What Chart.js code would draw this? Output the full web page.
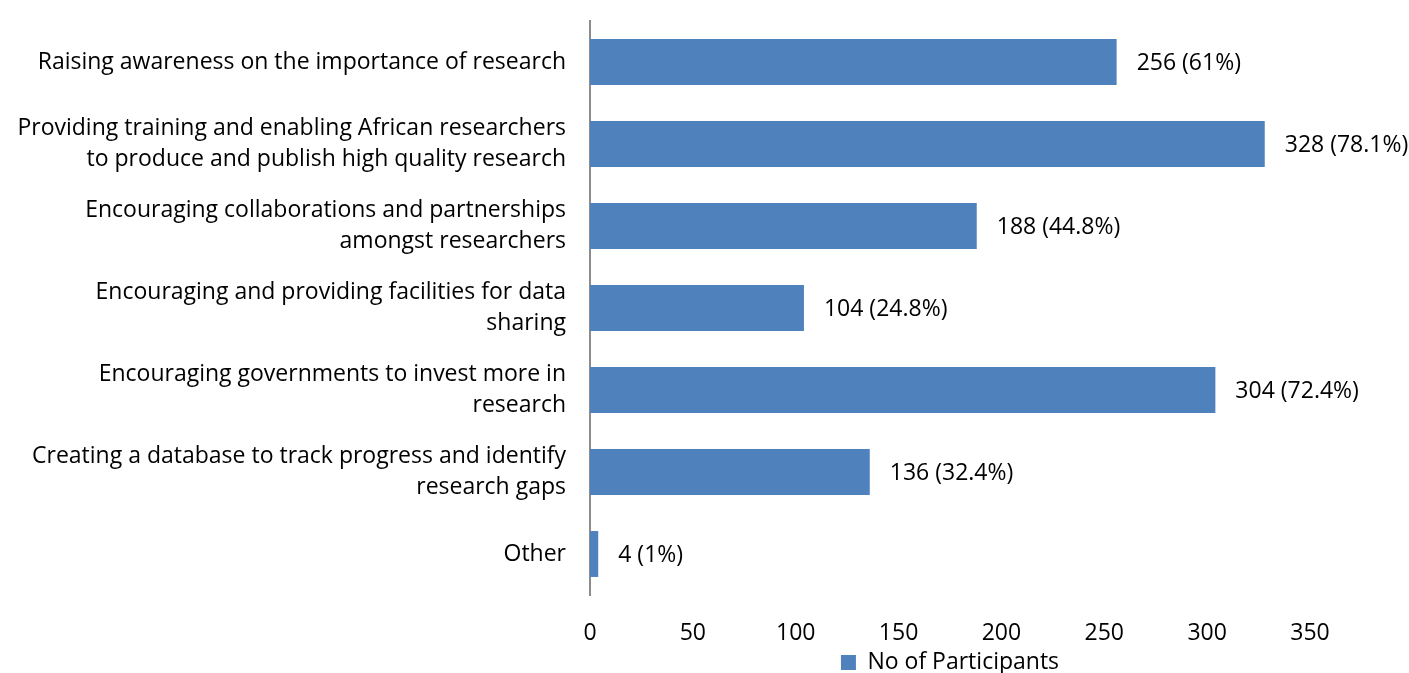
<!DOCTYPE html>
<html>
<head>
<meta charset="utf-8">
<script src="https://cdn.jsdelivr.net/npm/chart.js@4/dist/chart.umd.min.js"></script>
<style>
  html, body { margin: 0; padding: 0; background: #fff; }
  #wrap { width: 1409px; height: 673px; }
</style>
</head>
<body>
<div id="wrap"><canvas id="chart"></canvas></div>
<script>
const categories = [
  ["Raising awareness on the importance of research"],
  ["Providing training and enabling African researchers", "to produce and publish high quality research"],
  ["Encouraging collaborations and partnerships", "amongst researchers"],
  ["Encouraging and providing facilities for data", "sharing"],
  ["Encouraging governments to invest more in", "research"],
  ["Creating a database to track progress and identify", "research gaps"],
  ["Other"]
];
const participants = [256, 328, 188, 104, 304, 136, 4];
const percents = ["61%", "78.1%", "44.8%", "24.8%", "72.4%", "32.4%", "1%"];
const xTicks = [0, 50, 100, 150, 200, 250, 300, 350];

const FONT = "'Open Sans', sans-serif";
const SIZE = 23;
const BLUE = "#4F81BD";

// labels to the right of each bar
const barLabels = {
  id: "barLabels",
  afterDatasetsDraw(chart) {
    const ctx = chart.ctx;
    const meta = chart.getDatasetMeta(0);
    ctx.save();
    ctx.font = `${SIZE}px ${FONT}`;
    ctx.fillStyle = "#000";
    ctx.textBaseline = "middle";
    ctx.textAlign = "left";
    meta.data.forEach((bar, i) => {
      ctx.fillText(`${participants[i]} (${percents[i]})`, bar.x + 20, bar.y + 1);
    });
    ctx.restore();
  }
};

new Chart(document.getElementById("chart").getContext("2d"), {
  type: "bar",
  data: {
    labels: categories,
    datasets: [{
      label: "No of Participants",
      data: participants,
      backgroundColor: BLUE,
      categoryPercentage: 1,
      barPercentage: 0.56
    }]
  },
  options: {
    indexAxis: "y",
    responsive: true,
    maintainAspectRatio: false,
    animation: false,
    layout: { padding: { top: 21, right: 99, left: 0, bottom: -11 } },
    scales: {
      x: {
        min: 0, max: 350,
        afterBuildTicks: s => { s.ticks = xTicks.map(v => ({ value: v })); },
        grid: { display: false, drawTicks: false },
        border: { display: false },
        ticks: { color: "#000", font: { family: FONT, size: SIZE }, padding: 25 },
        afterFit: s => { s.height = 56; s.paddingLeft = 0; s.paddingRight = 0; }
      },
      y: {
        grid: { display: false, drawTicks: false },
        border: { display: true, color: "#8c8c8c", width: 2 },
        ticks: { color: "#000", font: { family: FONT, size: SIZE, lineHeight: 1.35 }, padding: 24 },
        afterFit: s => { s.width = 590; s.paddingTop = 0; s.paddingBottom = 0; }
      }
    },
    plugins: {
      legend: {
        position: "bottom",
        fullSize: false,
        labels: {
          color: "#000",
          font: { family: FONT, size: SIZE },
          boxWidth: 15, boxHeight: 15,
          padding: 0
        }
      },
      tooltip: { enabled: false }
    }
  },
  plugins: [barLabels]
});
</script>
</body>
</html>
